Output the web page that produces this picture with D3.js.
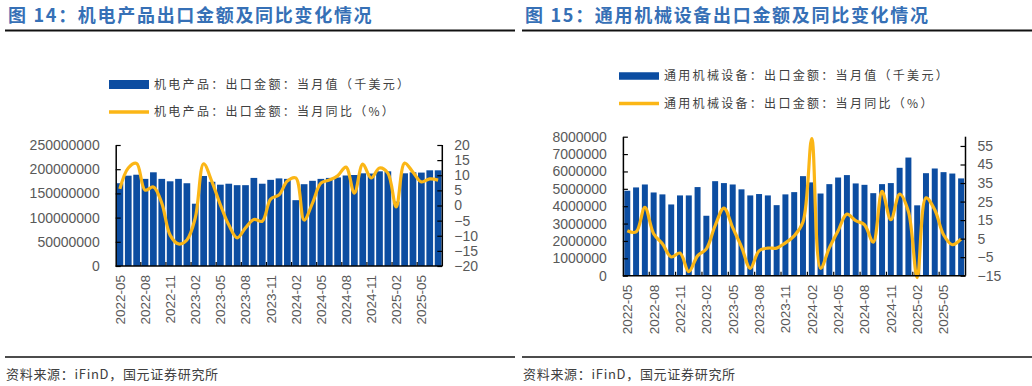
<!DOCTYPE html>
<html>
<head>
<meta charset="utf-8">
<script src="https://cdn.jsdelivr.net/npm/d3@7"></script>
<style>
  body { margin: 0; background: #fff; }
  text { font-family: "Liberation Sans", Arial, sans-serif; }
  .cjk { font-family: "Noto Sans CJK SC", sans-serif; }
</style>
</head>
<body>
<svg id="chart" width="1032" height="386"></svg>
<script>
// months shown on both charts
var months = ["2022-05","2022-06","2022-07","2022-08","2022-09","2022-10","2022-11","2022-12",
  "2023-01","2023-02","2023-03","2023-04","2023-05","2023-06","2023-07","2023-08","2023-09","2023-10","2023-11","2023-12",
  "2024-01","2024-02","2024-03","2024-04","2024-05","2024-06","2024-07","2024-08","2024-09","2024-10","2024-11","2024-12",
  "2025-01","2025-02","2025-03","2025-04","2025-05","2025-06","2025-07"];

// fig 14: electromechanical products, monthly export value (k USD) and yoy (%)
var meValue = [171000000,186600000,188600000,180000000,193600000,180000000,175000000,180000000,171000000,128700000,
  186000000,174000000,168000000,170000000,167000000,167000000,182000000,170000000,178000000,181000000,
  180000000,136000000,169000000,176000000,180000000,182000000,183000000,187000000,188000000,191500000,
  191000000,195600000,195600000,133000000,191500000,193600000,193000000,197700000,197700000];
var meYoy = [5.5,12.4,13.9,5.1,6.1,0.8,-9.8,-12.7,-11.4,-4.1,13.8,7.8,0.2,-6.4,-10.7,-7.4,-4.6,-5.2,2.1,3.5,
  8.1,9.1,-4.8,0.8,7.4,8.4,9.8,12.7,4.1,13.7,9.1,12.4,10.7,-0.5,14,11,7.8,8.8,8.4];

// fig 15: general machinery, monthly export value (k USD) and yoy (%)
var gmValue = [4890000,5080000,5250000,4790000,4680000,4100000,4620000,4620000,5100000,3450000,
  5440000,5330000,5250000,4970000,4620000,4700000,4620000,4060000,4680000,4810000,
  5730000,5370000,4730000,5270000,5650000,5790000,5310000,5230000,4750000,5270000,
  5330000,6210000,6800000,4050000,5900000,6170000,5960000,5880000,5600000];
var gmYoy = [9.3,8.6,21.9,7.6,2.2,-4.9,-2.8,-12.8,-4.3,-0.5,12,21.5,10.9,0.6,-11,-1.6,-0.1,-0.1,2.7,6.5,
  14,59,-11,0,9.3,18.2,14.7,12.5,3.1,30.5,15.2,29,19.6,-16,27,20.6,7.1,1.7,4.9];

// axis ticks
var meLeftTicks = [0,50000000,100000000,150000000,200000000,250000000];
var meRightTicks = [-20,-15,-10,-5,0,5,10,15,20];
var gmLeftTicks = [0,1000000,2000000,3000000,4000000,5000000,6000000,7000000,8000000];
var gmRightTicks = [-15,-5,5,15,25,35,45,55];

var barColor = "#0c4da1";
var lineColor = "#fbb616";
var textGray = "#595959";

var svg = d3.select("#chart");

function drawPanel(p) {
    var g = svg.append("g");

    // title + rules
    g.append("text")
        .attr("class", "cjk")
        .attr("x", p.panelX + 3)
        .attr("y", 22)
        .attr("font-size", "18px")
        .attr("font-weight", "bold")
        .attr("letter-spacing", "1.7px")
        .attr("fill", "#3670b6")
        .text(p.title);
    g.append("line")
        .attr("x1", p.panelX).attr("x2", p.panelX + 510)
        .attr("y1", 30.5).attr("y2", 30.5)
        .attr("stroke", "#111").attr("stroke-width", 2);
    g.append("line")
        .attr("x1", p.panelX).attr("x2", p.panelX + 510)
        .attr("y1", 357).attr("y2", 357)
        .attr("stroke", "#111").attr("stroke-width", 1.5);
    g.append("text")
        .attr("class", "cjk")
        .attr("x", p.panelX + 1)
        .attr("y", 379)
        .attr("font-size", "13px")
        .attr("letter-spacing", "0.7px")
        .attr("fill", "#404040")
        .text("资料来源：iFinD，国元证券研究所");

    // legend
    g.append("rect")
        .attr("x", p.legX).attr("y", p.legY - p.legH / 2)
        .attr("width", 40).attr("height", p.legH)
        .attr("fill", barColor);
    g.append("line")
        .attr("x1", p.legX).attr("x2", p.legX + 40)
        .attr("y1", p.legY + p.legGap).attr("y2", p.legY + p.legGap)
        .attr("stroke", lineColor).attr("stroke-width", 3.5);
    [p.legBar, p.legLine].forEach(function (t, i) {
        g.append("text")
            .attr("class", "cjk")
            .attr("x", p.legX + 45)
            .attr("y", p.legY + i * p.legGap)
            .attr("dy", "0.36em")
            .attr("font-size", "12px")
            .attr("letter-spacing", "2.3px")
            .attr("fill", "#404040")
            .text(t);
    });

    // scales
    var x = d3.scaleBand().domain(months)
        .range([p.left, p.right])
        .paddingInner(p.pad).paddingOuter(p.pad / 2);
    var step = (p.right - p.left) / months.length;
    var yL = d3.scaleLinear().domain(p.leftDomain).range([p.bottom, p.top]);
    var yR = d3.scaleLinear().domain(p.rightDomain).range([p.bottom, p.top]);

    // bars
    g.selectAll("rect.bar")
        .data(p.values)
        .enter()
        .append("rect")
        .attr("class", "bar")
        .attr("x", function (d, i) { return x(months[i]); })
        .attr("y", function (d) { return yL(d); })
        .attr("width", x.bandwidth())
        .attr("height", function (d) { return p.bottom - yL(d); })
        .attr("fill", barColor);

    // yoy line
    var line = d3.line()
        .x(function (d, i) { return x(months[i]) + x.bandwidth() / 2; })
        .y(function (d) { return yR(d); })
        .curve(d3.curveCatmullRom.alpha(0.5));
    g.append("path")
        .datum(p.yoy)
        .attr("d", line)
        .attr("fill", "none")
        .attr("stroke", lineColor)
        .attr("stroke-width", 3.2);

    // left axis
    var axL = g.append("g")
        .attr("transform", "translate(" + p.left + ",0)")
        .call(d3.axisLeft(yL).tickValues(p.leftTicks).tickSizeInner(-5).tickSizeOuter(0)
            .tickPadding(16).tickFormat(d3.format("d")));
    // right axis
    var axR = g.append("g")
        .attr("transform", "translate(" + p.right + ",0)")
        .call(d3.axisRight(yR).tickValues(p.rightTicks).tickSizeInner(-5).tickSizeOuter(0)
            .tickPadding(12).tickFormat(d3.format("d")));
    [axL, axR].forEach(function (ax) {
        ax.select(".domain").attr("stroke", "#000").attr("stroke-width", 1.5);
        ax.selectAll(".tick line").attr("stroke", "#000").attr("stroke-width", 1.2);
        ax.selectAll(".tick text")
            .attr("font-size", "14px")
            .attr("fill", textGray)
            .attr("font-family", "Liberation Sans, Arial, sans-serif");
    });
    axR.select(".domain").attr("d", "M0," + p.bottom + "V" + p.top);

    // bottom axis: line, ticks every 3 months, rotated labels
    g.append("line")
        .attr("x1", p.left).attr("x2", p.right)
        .attr("y1", p.bottom).attr("y2", p.bottom)
        .attr("stroke", "#000").attr("stroke-width", 1.5);
    var every3 = months.filter(function (m, i) { return i % 3 === 0; });
    g.selectAll("line.xtick")
        .data(every3.slice(1))
        .enter()
        .append("line")
        .attr("class", "xtick")
        .attr("x1", function (m) { return x(m) - (step - x.bandwidth()) / 2; })
        .attr("x2", function (m) { return x(m) - (step - x.bandwidth()) / 2; })
        .attr("y1", p.bottom).attr("y2", p.bottom - 4)
        .attr("stroke", "#000").attr("stroke-width", 1.2);
    g.selectAll("text.xlab")
        .data(every3)
        .enter()
        .append("text")
        .attr("class", "xlab")
        .attr("transform", function (m) {
            return "translate(" + (x(m) + x.bandwidth() / 2) + "," + (p.bottom + 9) + ") rotate(-90)";
        })
        .attr("text-anchor", "end")
        .attr("dy", "0.36em")
        .attr("font-size", "13.5px")
        .attr("fill", textGray)
        .text(function (m) { return m; });
}

drawPanel({
    panelX: 5,
    title: "图 14：机电产品出口金额及同比变化情况",
    legBar: "机电产品：出口金额：当月值（千美元）",
    legLine: "机电产品：出口金额：当月同比（%）",
    legX: 109, legY: 84.5, legH: 9, legGap: 27.5,
    left: 115.7, right: 442.3, top: 145, bottom: 266,
    pad: 0.2,
    values: meValue, yoy: meYoy,
    leftDomain: [0, 250000000], rightDomain: [-20, 20],
    leftTicks: meLeftTicks, rightTicks: meRightTicks
});

drawPanel({
    panelX: 522,
    title: "图 15：通用机械设备出口金额及同比变化情况",
    legBar: "通用机械设备：出口金额：当月值（千美元）",
    legLine: "通用机械设备：出口金额：当月同比（%）",
    legX: 619, legY: 76, legH: 7.5, legGap: 27.5,
    left: 622.9, right: 965.5, top: 136.7, bottom: 275.7,
    pad: 0.32,
    values: gmValue, yoy: gmYoy,
    leftDomain: [0, 8000000], rightDomain: [-15, 60],
    leftTicks: gmLeftTicks, rightTicks: gmRightTicks
});
</script>
</body>
</html>
